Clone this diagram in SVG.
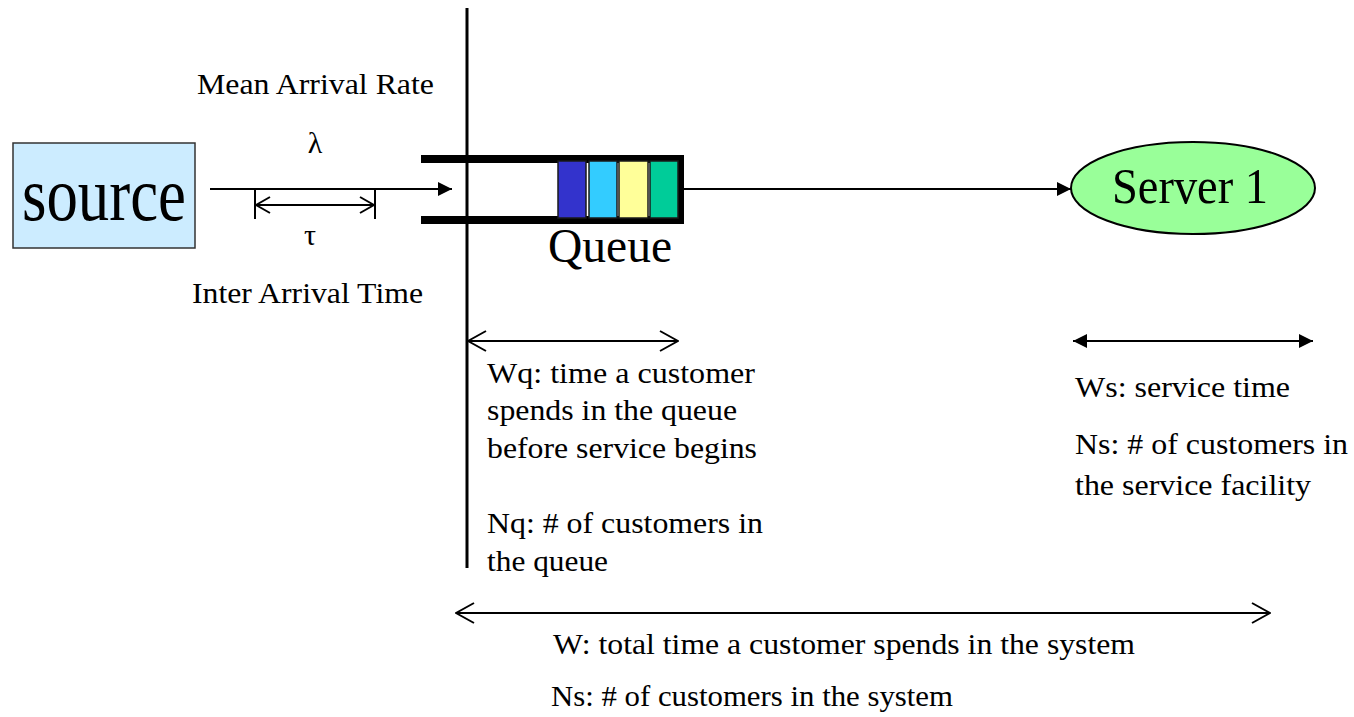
<svg xmlns="http://www.w3.org/2000/svg" width="1354" height="717" viewBox="0 0 1354 717">
  <style>
    text { font-family: "Liberation Serif", "Times New Roman", serif; fill: #000; }
    .lbl { font-size: 30px; }
    .ln { stroke: #000; stroke-width: 2; fill: none; }
    .bar { fill: #000; }
    .cell { stroke: #1a1a1a; stroke-width: 1.5; }
  </style>
  <defs>
    <marker id="solid" viewBox="0 0 14 14" refX="14" refY="7" markerWidth="14" markerHeight="14" markerUnits="userSpaceOnUse" orient="auto-start-reverse">
      <path d="M0,0 L14,7 L0,14 Z" fill="#000"/>
    </marker>
    <marker id="open" viewBox="0 0 20 22" refX="19" refY="11" markerWidth="20" markerHeight="22" markerUnits="userSpaceOnUse" orient="auto-start-reverse">
      <path d="M1,1 L19,11 L1,21" fill="none" stroke="#000" stroke-width="2"/>
    </marker>
    <marker id="openS" viewBox="0 0 16 18" refX="15" refY="9" markerWidth="16" markerHeight="18" markerUnits="userSpaceOnUse" orient="auto-start-reverse">
      <path d="M1,1 L15,9 L1,17" fill="none" stroke="#000" stroke-width="2"/>
    </marker>
  </defs>

  <rect width="1354" height="717" fill="#fff"/>

  <!-- system boundary -->
  <line x1="467" y1="8" x2="467" y2="568" stroke="#000" stroke-width="3"/>

  <!-- source -->
  <g id="source">
    <rect x="13" y="143" width="182" height="105" fill="#CCECFF" stroke="#333" stroke-width="1.5"/>
    <text x="22" y="220" font-size="76" textLength="164" lengthAdjust="spacingAndGlyphs">source</text>
  </g>

  <!-- queue -->
  <g id="queue">
    <rect class="bar" x="421" y="155" width="263" height="8"/>
    <rect class="bar" x="421" y="216" width="263" height="8"/>
    <rect class="bar" x="678" y="155" width="6" height="69"/>
    <rect class="cell" x="558" y="161" width="28" height="57" fill="#3333CC"/>
    <rect class="cell" x="589" y="161" width="28" height="57" fill="#33CCFF"/>
    <rect class="cell" x="619" y="161" width="29" height="57" fill="#FFFF99"/>
    <rect class="cell" x="650" y="161" width="28" height="57" fill="#00CC99"/>
    <text x="548" y="262" font-size="48" textLength="124" lengthAdjust="spacingAndGlyphs">Queue</text>
  </g>

  <!-- server -->
  <g id="server1">
    <ellipse cx="1193" cy="188" rx="122" ry="46" fill="#99FF99" stroke="#000" stroke-width="2"/>
    <text x="1112" y="203" font-size="50" textLength="156" lengthAdjust="spacingAndGlyphs">Server 1</text>
  </g>

  <!-- connectors and measures -->
  <g id="connectors">
    <line class="ln" x1="210" y1="189" x2="452" y2="189" marker-end="url(#solid)"/>
    <line class="ln" x1="684" y1="189" x2="1071" y2="189" marker-end="url(#solid)"/>
    <!-- inter arrival interval -->
    <line class="ln" x1="255" y1="190" x2="255" y2="219" stroke-width="2.5"/>
    <line class="ln" x1="375" y1="190" x2="375" y2="219" stroke-width="2.5"/>
    <line class="ln" x1="256" y1="205" x2="374" y2="205" marker-start="url(#openS)" marker-end="url(#openS)"/>
    <!-- waiting time in queue -->
    <line class="ln" x1="468" y1="341" x2="678" y2="341" marker-start="url(#open)" marker-end="url(#open)"/>
    <!-- service time -->
    <line class="ln" x1="1073" y1="341" x2="1313" y2="341" stroke-width="2.5" marker-start="url(#solid)" marker-end="url(#solid)"/>
    <!-- total time in system -->
    <line class="ln" x1="456" y1="613" x2="1270" y2="613" marker-start="url(#open)" marker-end="url(#open)"/>
  </g>

  <!-- labels -->
  <g id="labels">
    <text class="lbl" x="197" y="94" textLength="237" lengthAdjust="spacingAndGlyphs">Mean Arrival Rate</text>
    <text x="315" y="153" font-size="30" text-anchor="middle">λ</text>
    <text x="310" y="245" font-size="30" text-anchor="middle">τ</text>
    <text class="lbl" x="192" y="303" textLength="231" lengthAdjust="spacingAndGlyphs">Inter Arrival Time</text>

    <text class="lbl" x="487" y="383" textLength="268" lengthAdjust="spacingAndGlyphs">Wq: time a customer</text>
    <text class="lbl" x="487" y="420" textLength="250" lengthAdjust="spacingAndGlyphs">spends in the queue</text>
    <text class="lbl" x="487" y="458" textLength="270" lengthAdjust="spacingAndGlyphs">before service begins</text>
    <text class="lbl" x="487" y="533" textLength="276" lengthAdjust="spacingAndGlyphs">Nq: # of customers in</text>
    <text class="lbl" x="487" y="571" textLength="121" lengthAdjust="spacingAndGlyphs">the queue</text>

    <text class="lbl" x="1075" y="397" textLength="215" lengthAdjust="spacingAndGlyphs">Ws: service time</text>
    <text class="lbl" x="1075" y="454" textLength="273" lengthAdjust="spacingAndGlyphs">Ns: # of customers in</text>
    <text class="lbl" x="1075" y="495" textLength="236" lengthAdjust="spacingAndGlyphs">the service facility</text>

    <text class="lbl" x="553" y="654" textLength="582" lengthAdjust="spacingAndGlyphs">W: total time a customer spends in the system</text>
    <text class="lbl" x="551" y="706" textLength="402" lengthAdjust="spacingAndGlyphs">Ns: # of customers in the system</text>
  </g>
</svg>
